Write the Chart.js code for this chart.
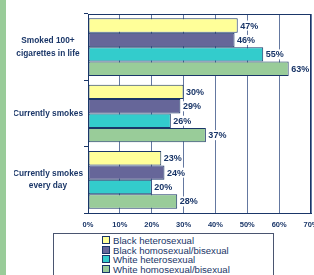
<!DOCTYPE html>
<html>
<head>
<meta charset="utf-8">
<script src="https://cdn.jsdelivr.net/npm/chart.js@4"></script>
<style>
  html, body { margin: 0; padding: 0; background: #fff; overflow: hidden; }
  body { width: 314px; height: 275px; position: relative; font-family: "Liberation Sans", Arial, sans-serif; }
  #stripe { position: absolute; left: 0; top: 0; width: 6px; height: 275px; background: #99cc99; }
  #wrap { position: absolute; left: 0; top: 0; width: 314px; height: 232px; }
  #legend { position: absolute; left: 53px; top: 233px; width: 221px; height: 50px; border: 1px solid #4a5570; box-sizing: border-box; }
  .item { position: absolute; left: 48px; font-size: 9.6px; color: #1a3668; line-height: 10px; white-space: nowrap; }
  .item span { display: inline-block; width: 6px; height: 6px; border: 1px solid #1a3668; margin-right: 3px; vertical-align: 0px; }
</style>
</head>
<body>
<div id="stripe"></div>
<div id="wrap"><canvas id="smokeChart" width="314" height="232"></canvas></div>
<div id="legend"></div>
<script>
// Data
const categories = [['Smoked 100+', 'cigarettes in life'], 'Currently smokes', ['Currently smokes', 'every day']];
const seriesNames = ['Black heterosexual', 'Black homosexual/bisexual', 'White heterosexual', 'White homosexual/bisexual'];
const blackHetero = [47, 30, 23];
const blackHomo = [46, 29, 24];
const whiteHetero = [55, 26, 20];
const whiteHomo = [63, 37, 28];
const seriesColors = ['#ffff99', '#666699', '#33cccc', '#99cc99'];

const navy = '#1a3668';
const fontFam = '"Liberation Sans", Arial, sans-serif';

// label persen di ujung batang
const valueLabels = {
  id: 'valueLabels',
  afterDatasetsDraw(chart) {
    const c = chart.ctx;
    c.save();
    c.font = 'bold 9px ' + fontFam;
    c.textBaseline = 'middle';
    chart.data.datasets.forEach((ds, i) => {
      chart.getDatasetMeta(i).data.forEach((bar, j) => {
        const txt = ds.data[j] + '%';
        const w = c.measureText(txt).width;
        const x = bar.x + 2;
        c.fillStyle = '#fff';
        c.fillRect(x, bar.y - 5, w + 1, 10);
        c.fillStyle = navy;
        c.fillText(txt, x + 0.5, bar.y + 0.5);
      });
    });
    c.restore();
  }
};

const dataRows = [blackHetero, blackHomo, whiteHetero, whiteHomo];

const ctx = document.getElementById('smokeChart').getContext('2d');
const smokeChart = new Chart(ctx, {
  type: 'bar',
  data: {
    labels: categories,
    datasets: seriesNames.map((name, i) => ({
      label: name,
      data: dataRows[i],
      backgroundColor: seriesColors[i],
      borderColor: navy,
      borderWidth: 1,
      borderSkipped: false,
      categoryPercentage: 0.87,
      barPercentage: 1
    }))
  },
  options: {
    indexAxis: 'y',
    responsive: false,
    animation: false,
    layout: { padding: { left: 14, right: 3, top: 14, bottom: 0 } },
    plugins: { legend: { display: false }, tooltip: { enabled: false } },
    scales: {
      x: {
        min: 0,
        max: 70,
        border: { color: navy, width: 1 },
        grid: { color: '#6478a0', lineWidth: 1, tickLength: 0 },
        ticks: {
          stepSize: 10,
          padding: 7,
          color: navy,
          font: { family: fontFam, size: 7.5, weight: 'bold' },
          callback: v => v + '%'
        },
        afterFit: s => { s.height = 19; s.paddingLeft = 0; s.paddingRight = 0; }
      },
      y: {
        border: { color: navy, width: 1 },
        grid: { drawOnChartArea: false, color: navy, tickLength: 4 },
        ticks: {
          color: navy,
          padding: 1,
          crossAlign: 'center',
          font: { family: fontFam, size: 8.3, weight: 'bold', lineHeight: 1.5 }
        },
        afterFit: s => { s.width = 74; }
      }
    }
  },
  plugins: [valueLabels, {
    id: 'frame',
    afterDraw(chart) {
      const a = chart.chartArea, c = chart.ctx;
      c.save();
      c.strokeStyle = navy;
      c.lineWidth = 1;
      c.strokeRect(a.left + 0.5, a.top + 0.5, a.right - a.left - 1, a.bottom - a.top);
      c.restore();
    }
  }]
});

// legenda HTML
const legend = document.getElementById('legend');
seriesNames.forEach((name, i) => {
  const el = document.createElement('div');
  el.className = 'item';
  el.style.top = (2 + i * 9.6) + 'px';
  el.innerHTML = '<span style="background:' + seriesColors[i] + '"></span>' + name;
  legend.appendChild(el);
});
</script>
</body>
</html>
